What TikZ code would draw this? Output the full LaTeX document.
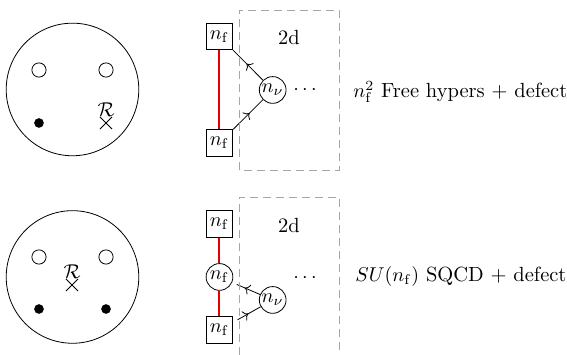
\documentclass[tikz,border=0pt]{standalone}
\usepackage{tikz}
\usetikzlibrary{positioning,shapes.misc,decorations.markings,arrows.meta}
\usepackage{xcolor}
\newcommand{\nf}{n_{\mathrm{f}}}

\tikzset{
  hole/.style={circle,draw,inner sep=0pt,minimum size=0.25cm},
  blob/.style={circle,fill,inner sep=0pt,minimum size=0.17cm},
  defect/.style={cross out,draw,inner sep=0pt,minimum size=0.2cm},
  flavour/.style={rectangle,draw,inner sep=0pt,minimum size=0.47cm},
  gauge/.style={circle,draw,inner sep=0pt,minimum size=0.47cm},
  midarrow/.style={postaction={decorate},
    decoration={markings,mark=at position 0.55 with {\arrow{To}}}},
  twod/.style={draw=gray!70,dash pattern=on 4pt off 2.5pt},
  caption/.style={anchor=west,inner sep=0pt}
}

\begin{document}
\begin{tikzpicture}[font=\fontsize{10.25}{12.3}\selectfont,
    redlink/.style={draw=red!90!black,line width=1pt}]
  \useasboundingbox (0,0) rectangle (9.964,6.238);
  % upper row: curve
  \node[circle,draw,inner sep=0pt,minimum size=2.33cm] (discA) at (1.274,4.666) {};
  \node[hole] (hA1) at (0.685,5.008) {};
  \node[hole] (hA2) at (1.863,5.008) {};
  \node[blob] (bA1) at (0.685,4.077) {};
  \node[defect] (xA) at (1.863,4.077) {};
  \node[above=-1pt of xA,inner sep=1pt] (rA) {$\mathcal{R}$};
  % upper row: quiver
  \node[flavour] (fA1) at (3.857,5.597) {$\nf$};
  \node[flavour] (fA2) at (3.857,3.725) {$\nf$};
  \node[gauge] (nuA) at (4.792,4.657) {$n_\nu$};
  \node (dotsA) at (5.360,4.657) {$\cdots$};
  \path[redlink] (fA1.south) -- (fA2.north);
  \draw[midarrow] (nuA) -- (fA1);
  \draw[midarrow] (fA2) -- (nuA);
  \draw[twod] (4.200,3.251) rectangle (5.957,6.063);
  \node (tdA) at (5.079,5.571) {2d};
  \node[caption] (txtA) at (6.203,4.622) {$\nf^2$ Free hypers + defect};
  % lower row: curve
  \node[circle,draw,inner sep=0pt,minimum size=2.33cm] (discB) at (1.274,1.371) {};
  \node[hole] (hB1) at (0.685,1.722) {};
  \node[hole] (hB2) at (1.863,1.722) {};
  \node[blob] (bB1) at (0.685,0.808) {};
  \node[blob] (bB2) at (1.863,0.808) {};
  \node[defect] (xB) at (1.265,1.230) {};
  \node[above=-1pt of xB,inner sep=1pt] (rB) {$\mathcal{R}$};
  % lower row: quiver
  \node[flavour] (fB1) at (3.857,2.302) {$\nf$};
  \node[gauge] (gB) at (3.857,1.371) {$\nf$};
  \node[flavour] (fB2) at (3.857,0.439) {$\nf$};
  \node[gauge] (nuB) at (4.792,0.967) {$n_\nu$};
  \node (dotsB) at (5.360,1.353) {$\cdots$};
  \path[redlink] (fB1.south) -- (gB.north) (gB.south) -- (fB2.north);
  \draw[midarrow,shorten >=2.5pt] (nuB) -- (gB);
  \draw[midarrow,shorten <=2.5pt] (fB2) -- (nuB);
  \draw[twod] (4.200,0) |- (5.957,2.777) -- (5.957,0);
  \node (tdB) at (5.079,2.284) {2d};
  \node[caption] (txtB) at (6.238,1.371) {$SU(\nf)$ SQCD + defect};
\end{tikzpicture}
\end{document}
